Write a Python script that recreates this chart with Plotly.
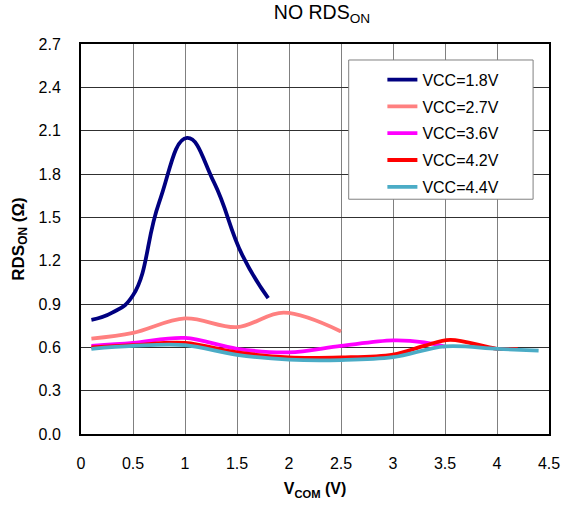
import plotly.graph_objects as go

x18 = [0.1, 0.3, 0.5, 0.75, 1.02, 1.28, 1.55, 1.8]
y18 = [0.79, 0.84, 0.96, 1.6, 2.05, 1.74, 1.24, 0.94]

x27 = [0.1, 0.5, 1.0, 1.5, 1.95, 2.5]
y27 = [0.66, 0.70, 0.80, 0.74, 0.84, 0.71]

x36 = [0.1, 0.5, 1.0, 1.5, 2.0, 2.5, 3.0, 3.3, 3.5]
y36 = [0.61, 0.63, 0.665, 0.59, 0.565, 0.61, 0.648, 0.635, 0.605]

x42 = [0.1, 0.5, 1.0, 1.5, 2.0, 2.5, 3.0, 3.3, 3.55, 4.0, 4.2]
y42 = [0.60, 0.615, 0.63, 0.565, 0.53, 0.53, 0.55, 0.61, 0.652, 0.59, 0.59]

x44 = [0.1, 0.5, 1.0, 1.5, 2.0, 2.5, 3.0, 3.5, 4.0, 4.4]
y44 = [0.59, 0.61, 0.615, 0.548, 0.515, 0.512, 0.532, 0.607, 0.59, 0.577]

series = [
    ("VCC=1.8V", x18, y18, "#000080", 1.3),
    ("VCC=2.7V", x27, y27, "#FF8080", 1.0),
    ("VCC=3.6V", x36, y36, "#FF00FF", 1.0),
    ("VCC=4.2V", x42, y42, "#FF0000", 1.0),
    ("VCC=4.4V", x44, y44, "#4BACC6", 1.0),
]

fig = go.Figure()
for i, (name, xs, ys, c, sm) in enumerate(series):
    fig.add_trace(go.Scatter(x=xs, y=ys, name=name, mode="lines",
                             line=dict(color=c, width=3.8, shape="spline", smoothing=sm),
                             legendgroup=str(i)))

font = "Liberation Sans, Arial, sans-serif"
fig.add_shape(type="rect", xref="paper", yref="paper",
              x0=0.572, x1=0.966, y0=0.602, y1=0.959,
              line=dict(color="#808080", width=1), fillcolor="white", layer="above")
fig.update_layout(
    width=572, height=507,
    margin=dict(l=81, r=19, t=44, b=71),
    paper_bgcolor="white", plot_bgcolor="white",
    font=dict(family=font, size=16, color="black"),
    showlegend=True,
    title=dict(text="NO RDS<sub>ON</sub>", xref="paper", x=0.515, xanchor="center",
               y=0.99, yanchor="top", font=dict(size=19.5, family=font)),
    legend=dict(x=0.644, y=0.952, xanchor="left", yanchor="top",
                bgcolor="rgba(0,0,0,0)", borderwidth=0,
                font=dict(size=16, family=font), tracegroupgap=3,
                itemwidth=30),
    xaxis=dict(range=[0, 4.5], tickvals=[0, 0.5, 1, 1.5, 2, 2.5, 3, 3.5, 4, 4.5],
               ticktext=["0", "0.5", "1", "1.5", "2", "2.5", "3", "3.5", "4", "4.5"],
               showgrid=True, gridcolor="#808080", gridwidth=1,
               showline=True, linecolor="black", linewidth=2, mirror=True,
               ticks="", ticklabelstandoff=14, zeroline=False,
               title=dict(text="<b>V<sub>COM</sub> (V)</b>", font=dict(size=16), standoff=12)),
    yaxis=dict(range=[0, 2.7], tickvals=[0, 0.3, 0.6, 0.9, 1.2, 1.5, 1.8, 2.1, 2.4, 2.7],
               tickformat=".1f",
               showgrid=True, gridcolor="#303030", gridwidth=1,
               showline=True, linecolor="black", linewidth=2, mirror=True,
               ticks="", ticklabelstandoff=15, zeroline=False,
               title=dict(text="<b>RDS<sub>ON</sub> (Ω)</b>", font=dict(size=17), standoff=10)),
)
fig.write_html("out.html")
